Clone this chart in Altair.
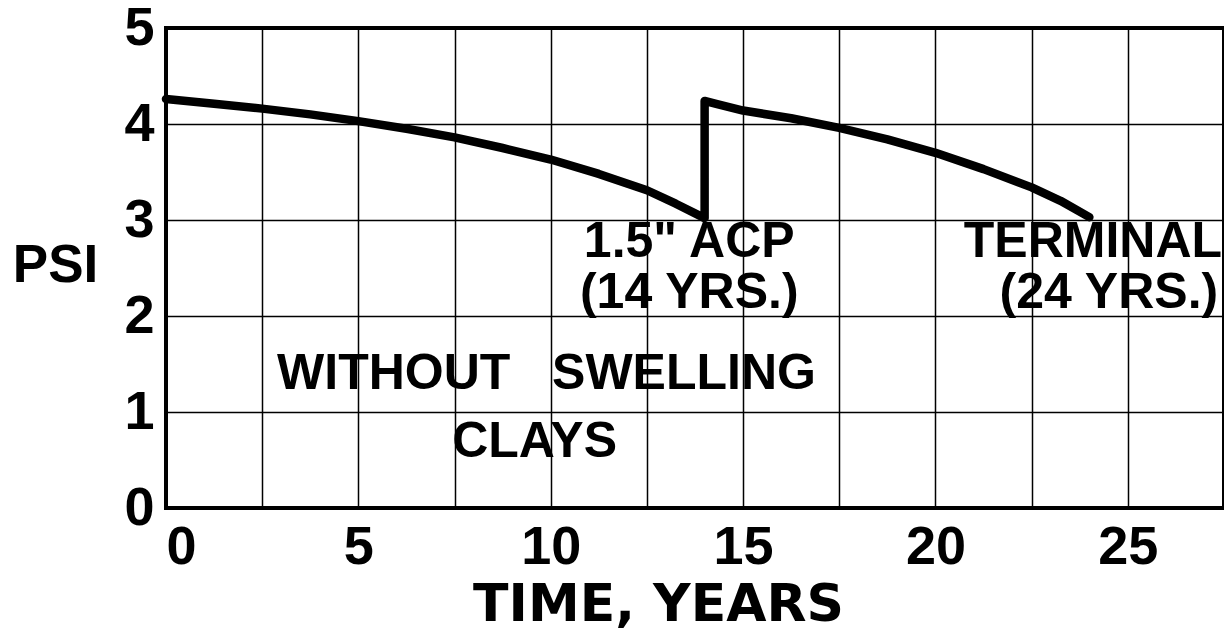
import altair as alt
import pandas as pd

# PSI curve (time in years, PSI)
years = [0, 1.25, 2.5, 3.75, 5, 6.25, 7.5, 8.75, 10, 11.25, 12.5, 13.25, 14,
         14, 14.3, 15, 16.25, 17.5, 18.75, 20, 21.25, 22.5, 23.25, 24]
psi = [4.26, 4.21, 4.16, 4.10, 4.03, 3.95, 3.86, 3.75, 3.63, 3.48, 3.31, 3.17, 3.02,
       4.24, 4.21, 4.14, 4.06, 3.96, 3.84, 3.70, 3.53, 3.34, 3.20, 3.03]

x_grid = [0, 2.5, 5, 7.5, 10, 12.5, 15, 17.5, 20, 22.5, 25, 27.5]
y_ticks = [0, 1, 2, 3, 4, 5]

# annotations (text, x in years, y in PSI, alignment)
ann_text = ['1.5" ACP', "(14 YRS.)", "TERMINAL", "(24 YRS.)",
            "WITHOUT\u00a0\u00a0\u00a0SWELLING", "CLAYS"]
ann_x = [13.6, 13.6, 27.45, 27.35, 9.89, 9.58]
ann_y = [2.77, 2.24, 2.77, 2.24, 1.40, 0.69]
ann_align = ["center", "center", "right", "right", "center", "center"]

FONT = "Liberation Sans"
TITLE_FONT = "DejaVu Sans"

curve = pd.DataFrame({"t": years, "psi": psi, "order": list(range(len(years)))})
ann = pd.DataFrame({"text": ann_text, "x": ann_x, "y": ann_y, "align": ann_align})

xscale = alt.Scale(domain=[0, 27.5], nice=False, zero=False)
yscale = alt.Scale(domain=[0, 5], nice=False)

line = alt.Chart(curve).mark_line(
    color="black", strokeWidth=8.5, strokeJoin="round", strokeCap="round", interpolate="linear"
).encode(
    x=alt.X("t:Q", scale=xscale, axis=alt.Axis(
        values=x_grid, labelExpr="datum.value % 5 == 0 && datum.value < 27 ? datum.label : ''",
        grid=True, gridColor="black", gridWidth=1.5, gridOpacity=1,
        ticks=False, domain=False, labelFont=FONT, labelFontWeight="bold", labelFontSize=54,
        labelColor="black", labelPadding=12, labelBaseline="top",
        title="TIME, YEARS", titleFont=TITLE_FONT, titleFontWeight="bold",
        titleFontSize=52, titleColor="black", titleX=492, titleY=96, titleBaseline="middle",
        titleAnchor="middle", titleAlign="center")),
    y=alt.Y("psi:Q", scale=yscale, axis=alt.Axis(
        values=y_ticks, format="d", grid=True, gridColor="black", gridWidth=1.5, gridOpacity=1,
        ticks=False, domain=False, labelFont=FONT, labelFontWeight="bold", labelFontSize=54,
        labelColor="black", labelPadding=12, labelBaseline="middle",
        title="PSI", titleFont=FONT, titleFontWeight="bold", titleFontSize=53, titleColor="black",
        titleAngle=0, titleX=-111, titleY=237, titleAlign="center", titleBaseline="middle")),
    order="order:Q",
)

texts_c = alt.Chart(ann[ann["align"] == "center"]).mark_text(
    font=FONT, fontWeight="bold", fontSize=50, color="black", baseline="middle", align="center"
).encode(x=alt.X("x:Q", scale=xscale), y=alt.Y("y:Q", scale=yscale), text="text:N")

texts_r = alt.Chart(ann[ann["align"] == "right"]).mark_text(
    font=FONT, fontWeight="bold", fontSize=50, color="black", baseline="middle", align="right"
).encode(x=alt.X("x:Q", scale=xscale), y=alt.Y("y:Q", scale=yscale), text="text:N")

chart = alt.layer(line, texts_c, texts_r).properties(
    width=1058, height=480,
    padding={"left": 158, "top": 20, "right": 0, "bottom": 130},
    autosize="none",
    background="white",
).configure_view(stroke="black", strokeWidth=4)

chart.save("out.html", embed_options={"renderer": "svg", "actions": False})
